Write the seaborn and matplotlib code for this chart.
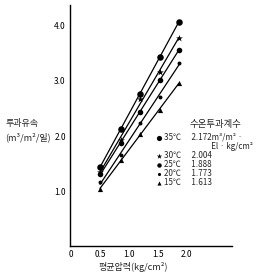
import matplotlib
matplotlib.use("Agg")
import matplotlib.pyplot as plt
from matplotlib.lines import Line2D
import seaborn as sns
import numpy as np
import pandas as pd

# ---- data ----
pressure = [0.5, 0.86, 1.19, 1.53, 1.86]          # 평균압력 (kg/cm²)
temps = ["35℃", "30℃", "25℃", "20℃", "15℃"]
coeffs = ["2.172", "2.004", "1.888", "1.773", "1.613"]
flux_35 = [1.44, 2.13, 2.76, 3.44, 4.07]
flux_30 = [1.35, 1.93, 2.67, 3.16, 3.78]
flux_25 = [1.31, 1.87, 2.44, 3.02, 3.56]
flux_20 = [1.16, 1.65, 2.24, 2.71, 3.33]
flux_15 = [1.04, 1.56, 2.04, 2.47, 2.96]
x_ticks = [0, 0.5, 1.0, 1.5, 2.0]
x_ticklabels = ["0", "0.5", "1.0", "1.5", "2.0"]
y_ticks = [1.0, 2.0, 3.0, 4.0]
y_ticklabels = ["1.0", "2.0", "3.0", "4.0"]

series = [flux_35, flux_30, flux_25, flux_20, flux_15]
df = pd.DataFrame({
    "pressure": pressure * len(temps),
    "flux": sum(series, []),
    "temp": np.repeat(temps, len(pressure)),
})

sns.set_style("white")
plt.rcParams["font.family"] = ["Noto Sans CJK KR", "DejaVu Sans"]

fig = plt.figure(figsize=(2.67, 2.79), dpi=100)
ax = fig.add_axes([0.262, 0.118, 0.607, 0.864])

markers = ["o", "*", "o", "o", "^"]
sizes = [22, 26, 16, 8, 14]
scatter_handles = []
for t, m, s in zip(temps, markers, sizes):
    sub = df[df["temp"] == t]
    n_before = len(ax.collections)
    sns.regplot(data=sub, x="pressure", y="flux", ax=ax, ci=None, truncate=True,
                marker=m, color="black",
                scatter_kws={"s": s, "linewidths": 0, "alpha": 1},
                line_kws={"lw": 0.9})
    scatter_handles.append(ax.collections[n_before])

ax.set_xlim(-0.02, 2.78)
ax.set_ylim(0, 4.38)
ax.set_xticks(x_ticks)
ax.set_xticklabels(x_ticklabels)
ax.set_yticks(y_ticks)
ax.set_yticklabels(y_ticklabels)
ax.tick_params(direction="in", length=2.5, width=0.8, labelsize=6, pad=3, colors="black")
for sp in ["top", "right"]:
    ax.spines[sp].set_visible(False)
for sp in ["left", "bottom"]:
    ax.spines[sp].set_linewidth(1.0)
    ax.spines[sp].set_color("black")
ax.set_xlabel("")
ax.set_ylabel("")

fig.text(0.02, 0.558, "투과유속", fontsize=6.5, ha="left", va="center")
fig.text(0.02, 0.508, "(m³/m²/일)", fontsize=6.5, ha="left", va="center")
fig.text(0.50, 0.043, "평균압력(kg/cm²)", fontsize=6.5, ha="center", va="center")

# legend header
fig.text(0.807, 0.555, "수온투과계수", fontsize=6.8, ha="center", va="center")

blank = Line2D([], [], linestyle="none", marker="none")
new_h = [scatter_handles[0], blank] + scatter_handles[1:]
new_l = [f"{temps[0]}      {coeffs[0]}m³/m² ·", "                           El · kg/cm²"] + \
        [f"{t}      {c}" for t, c in zip(temps[1:], coeffs[1:])]
leg = ax.legend(new_h, new_l, loc="upper left",
                bbox_to_anchor=(0.582, 0.524), bbox_transform=fig.transFigure,
                frameon=False, fontsize=5.8,
                handletextpad=0.15, handlelength=0.9, labelspacing=0.0,
                borderpad=0.0, borderaxespad=0.0, markerscale=0.8)

fig.savefig("out.png", dpi=100)
